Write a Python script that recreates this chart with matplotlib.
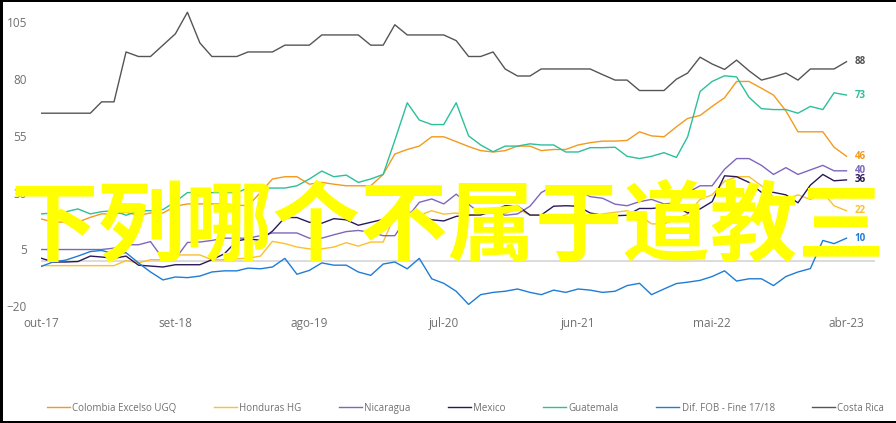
import matplotlib
matplotlib.use("Agg")
import matplotlib.pyplot as plt
import pandas as pd
from matplotlib.lines import Line2D
from matplotlib.patches import Rectangle

# monthly points, out-17 .. abr-23
months = pd.date_range("2017-10-01", periods=67, freq="MS")
tick_labels = ["out-17", "set-18", "ago-19", "jul-20", "jun-21", "mai-22", "abr-23"]
tick_dates = months[::11]
y_ticks = [-20, 5, 30, 55, 80, 105]

colombia = [18.4, 17, 17, 17, 19.1, 20.6, 20.6, 21.3, 20, 21, 21, 24, 25, 25, 25, 25, 24.5,
            24.2, 30, 36, 37, 37, 33.7, 34.5, 33.7, 33, 33, 33, 38, 47, 49, 50.5, 54.6, 54.6,
            52.5, 50.3, 48.5, 47.9, 48.5, 50.5, 50.5, 48.5, 49, 49, 51, 52, 52.7, 52.7, 53,
            56.8, 55, 54.6, 59, 62.7, 64, 68, 71.8, 79, 79, 76, 73, 66, 56.8, 56.8, 56.8, 50, 46]
honduras = [-2.2, -2.2, -2.2, -2.2, -2.2, -2.2, -2.2, 0, -1, 0.4, 0.4, 2.5, 2.5, 2.5, 0.4, 0.4,
            0.8, 1.1, 2, 8.5, 7.5, 6, 5.2, 5.2, 6, 7.9, 6.4, 8.2, 8.2, 20, 22, 20, 22, 20.5, 21,
            20, 20.5, 21, 20.8, 23, 20, 20, 20, 19.8, 18, 19, 20.6, 21.3, 22, 20, 16.2, 16.2,
            18.4, 20.5, 27, 29, 35, 37, 37, 33, 28, 27, 29, 27, 30, 24.2, 22]
nicaragua = [4.9, 4.9, 4.9, 4.9, 4.9, 4.9, 5.5, 7, 7, 8.4, 0.8, 0.8, 8, 8.2, 8.9, 9.9, 9.9,
             9.9, 11, 12.2, 12.2, 12.2, 9.9, 9.9, 11.4, 12.8, 13.3, 12.5, 11, 11, 19, 25.7, 27.2,
             25, 29.3, 24.9, 20.6, 22, 20, 20.6, 24, 30, 33, 33, 31, 28.2, 27.5, 24.9, 24.2, 26,
             27, 25, 25.5, 30, 33, 33, 40.3, 45, 45, 42, 38, 41, 38, 40, 42, 39.6, 39.6]
mexico = [1.1, -0.6, -0.6, -0.4, 2, 1.6, 1, 2, -2, -2.4, -2.8, -1.8, -1.8, -1.8, 0.4, 3, 8.7,
          9.6, 9, 13, 19, 19, 16.9, 16.5, 18.5, 18, 15.6, 16.9, 18.2, 19, 20, 20.1, 18, 17.5,
          19.5, 20.1, 20.1, 22, 24.2, 24.2, 20.1, 20.1, 24, 24.2, 24, 21, 20, 19.8, 20, 23, 23,
          23.5, 23.9, 21, 22.8, 26, 37.4, 37, 34.5, 30.1, 30.1, 29, 25.5, 33.3, 38, 35.2, 35.6]
guatemala = [20.6, 21, 21.5, 22.8, 20.6, 21.6, 22, 20, 22, 22, 22.5, 26, 30, 30, 30, 30, 30,
             32, 32, 32, 32, 33, 36, 39.5, 37, 37.7, 34.5, 36, 38, 53, 69.6, 62, 60, 60, 69.6,
             55, 51, 48, 50.5, 50.5, 51.5, 51, 51, 47.9, 47.9, 49.8, 49.8, 50, 46, 45, 46, 47.6,
             45.5, 54.6, 74.6, 79, 81.5, 81, 72, 67, 66.6, 66.6, 65, 68, 66.6, 74, 73]
dif_fob = [-2.6, -0.5, 0.2, 2, 4, 4.5, 3, 3.5, -1, -5, -8.5, -7.2, -7.5, -6.8, -5, -4.5, -4.5,
           -3.3, -3.6, -2.8, 1, -6, -4.3, -1, -2, -2, -5, -6.5, -1.5, -0.6, -3.6, 1, -8, -10,
           -13.5, -19.3, -15, -14, -13.5, -12.5, -14, -15, -13, -14, -12.5, -13, -14, -13.5, -11,
           -10, -15, -12.5, -10.1, -9.5, -8.7, -7, -4.5, -9, -8, -8, -11, -7, -5, -3.5, 8.9,
           7.5, 9.9]
costa_rica = [65, 65, 65, 65, 65, 70, 70, 92, 90, 90, 95, 100, 109.5, 96, 90, 90, 90, 92, 92,
              92, 95, 95, 95, 99.5, 99.5, 99.5, 99.5, 95, 95, 104, 99.5, 99.5, 99.5, 99.5, 97,
              90, 90, 92, 84.5, 81.4, 81.4, 84.5, 84.5, 84.5, 84.5, 84.5, 82, 79.6, 79.6, 75, 75,
              75, 80, 82.7, 89.7, 86.7, 84.3, 88.4, 83.7, 79.6, 81, 82.7, 79.6, 84.5, 84.5, 84.5,
              87.7]

series = [
    ("Colombia Excelso UGQ", colombia, "#F39A1E"),
    ("Honduras HG", honduras, "#FBC02D"),
    ("Nicaragua", nicaragua, "#7E66BC"),
    ("Mexico", mexico, "#2A1959"),
    ("Guatemala", guatemala, "#2DBF9B"),
    ("Dif. FOB - Fine 17/18", dif_fob, "#1E7DD6"),
    ("Costa Rica", costa_rica, "#555555"),
]

TEXT = "#707070"
plt.rcParams["font.family"] = ["Open Sans", "DejaVu Sans"]

fig = plt.figure(figsize=(8.96, 4.23), dpi=100)
ax = fig.add_axes([41 / 896, 117 / 423, 834 / 896, 296 / 423])

ax.axhline(0, color="#D6D6D6", lw=1.2, zorder=1)
handles = []
for name, vals, color in series:
    ax.plot(months, vals, color=color, lw=1.0, zorder=2)
    handles.append(Line2D([], [], color=color, lw=1.0, label=name))
    ax.annotate(f"{vals[-1]:.0f}", (months[-1], vals[-1]), xytext=(6, 0),
                textcoords="offset points", va="center", ha="left",
                color=color, fontsize=7, fontweight="bold")

ax.set_xlim(months[0], months[0] + pd.Timedelta(days=68.3 * 30.44))
ax.set_ylim(-20, 110.5)
ax.set_xticks(tick_dates)
ax.set_xticklabels(tick_labels)
ax.set_yticks(y_ticks)
ax.tick_params(axis="both", length=0, labelsize=8.5, colors=TEXT)
ax.tick_params(axis="y", pad=10)
ax.tick_params(axis="x", pad=8)
for s in ax.spines.values():
    s.set_visible(False)

fig.legend(handles=handles, loc="center", bbox_to_anchor=(465.5 / 896, 15 / 423), ncol=7,
           frameon=False, fontsize=7, labelcolor=TEXT, handlelength=2.4,
           handletextpad=0.25, columnspacing=3.8)

fig.text(447.5 / 896, 1 - 229 / 423, "下列哪个不属于道教三", color="#FFFF00", fontsize=63,
         fontweight="bold", ha="center", va="center",
         family=["Noto Sans CJK SC", "DejaVu Sans"], zorder=10)

# black frame on top, left and bottom edges
for xy, w, h in [((0, 0), 2.5 / 896, 1), ((0, 1 - 2.5 / 423), 1, 2.5 / 423),
                 ((0, 0), 1, 2.5 / 423)]:
    fig.add_artist(Rectangle(xy, w, h, transform=fig.transFigure, color="black", lw=0))

fig.savefig("out.png", dpi=100)
